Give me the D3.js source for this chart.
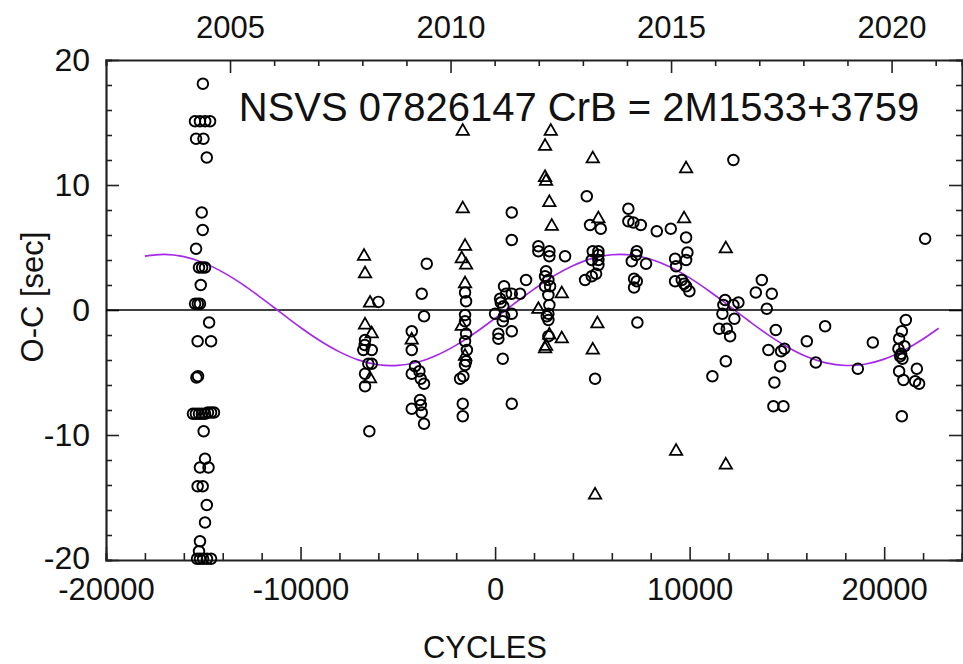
<!DOCTYPE html>
<html><head><meta charset="utf-8">
<script src="https://cdn.jsdelivr.net/npm/d3@7"></script>
<style>
html,body{margin:0;padding:0;background:#fff;}
svg text{font-family:"Liberation Sans",Arial,Helvetica,sans-serif;fill:#111;}
</style></head>
<body><svg id="c" width="963" height="664"></svg>
<script>
// ---------- data (cycle, O-C seconds) ----------
const circleCycles = [
 -15020,-15425,-15170,-14900,-14650,-15370,-14990,-14820,-15080,-15030,-15370,-15220,-15060,-14910,-15130,-15420,-15280,-15170,
 -14700,-15290,-14600,-15350,-15270,-15530,-15380,-15220,-15070,-14910,-14760,-14600,-14450,-14980,-14910,-15170,-14730,-15290,-15030,
 -14820,-14910,-15170,-15220,-15320,-15170,-15010,-14810,-14600,
 -6001,-6685,-6772,-6340,-6515,-6340,-6685,-6685,-6464,-6700,
 -3513,-3770,-3652,-4284,-4284,-4114,-4284,-3893,-3821,-3652,-3857,-3821,-4284,-3770,-3652,
 -1544,-1492,-1544,-1544,-1492,-1544,-1450,-1492,-1544,-1801,-1631,-1662,-1662,
 857,857,1592,461,256,564,857,1284,292,425,-2,461,857,394,168,168,857,394,857,
 2225,2225,2790,2790,3597,2620,2569,2739,2569,2826,2739,2790,2739,2739,2656,2739,
 4713,4882,5432,5021,5309,5309,5309,4970,5309,5191,4970,4625,5139,
 6851,6851,7108,7489,7283,7247,7026,7761,7144,7283,7144,7314,
 8311,9031,9818,9885,9252,9818,9304,9252,9597,9715,9818,9987,
 12250,11823,11735,12250,12506,11684,12301,11514,11910,12080,11859,11170,
 13710,13401,14223,13966,14429,14049,14702,14872,14650,14357,14306,14820,
 16023,16964,16486,18645,19416,
 22105,21113,20907,20768,21041,20732,20871,20938,20820,20768,21678,20989,21591,21796,20907
];
const circleOC = [
 18.1,15.1,15.1,15.1,15.1,13.7,13.7,12.2,7.8,6.4,4.9,3.4,3.4,3.4,2.0,0.5,0.5,0.5,
 -1.0,-2.5,-2.5,-5.4,-5.3,-8.3,-8.3,-8.3,-8.3,-8.3,-8.2,-8.2,-8.2,-9.7,-11.9,-12.6,-12.6,-14.1,-14.1,
 -15.6,-17.0,-18.5,-19.3,-19.9,-19.9,-19.9,-19.9,-19.9,
 0.65,-2.4,-3.2,-3.2,-4.3,-4.3,-5.1,-6.1,-9.7,-2.8,
 3.7,1.3,-0.5,-1.7,-3.2,-4.5,-5.1,-4.9,-5.5,-5.9,-7.2,-7.6,-7.9,-8.2,-9.1,
 1.4,0.7,-0.4,-0.9,-1.9,-2.5,-3.2,-4.1,-4.4,-5.5,-5.3,-7.5,-8.5,
 7.8,5.6,2.4,1.9,0.9,1.3,1.3,1.3,0.6,0.3,-0.3,-0.5,-0.3,-0.9,-1.9,-2.3,-1.7,-3.9,-7.5,
 5.1,4.7,4.7,4.3,4.3,3.1,2.7,2.4,1.9,1.9,1.2,0.4,-0.3,-0.8,-0.5,-2.1,
 9.1,6.8,6.5,4.7,4.7,4.4,4.0,4.0,3.6,2.9,2.7,2.4,-5.5,
 8.1,7.1,7.0,6.8,4.7,4.4,3.9,3.7,2.5,2.3,1.8,-1.0,
 6.3,6.5,5.8,4.6,4.1,4.0,3.5,2.3,2.4,2.1,1.9,1.5,
 12.0,0.8,0.4,0.4,0.6,-0.3,-0.7,-1.5,-1.5,-2.1,-4.1,-5.3,
 2.4,1.4,1.3,0.1,-1.6,-3.2,-3.3,-3.1,-4.5,-5.8,-7.7,-7.7,
 -2.5,-1.3,-4.2,-4.7,-2.6,
 5.7,-0.8,-1.7,-2.3,-2.9,-3.1,-3.5,-3.9,-3.7,-4.9,-4.7,-5.6,-5.7,-5.9,-8.5
];
const triangleCycles = [
 -6736,-6685,-6428,-6685,-6340,-6428,
 -4284,
 -1662,-1662,-1544,-1713,-1492,-1544,-1713,-1544,
 2862,2569,2569,2620,2790,2913,3428,2225,2790,3428,2569,2620,
 5021,5309,5258,5021,5139,
 9818,9715,9304,
 11859,11859
];
const triangleOC = [
 4.3,2.9,0.55,-1.2,-1.9,-5.5,
 -2.4,
 14.3,8.1,5.1,4.1,3.6,2.1,-1.3,-3.7,
 14.3,13.1,10.6,10.3,8.6,6.7,1.3,0.05,-2.0,-2.3,-3.1,-2.9,
 12.1,7.3,-1.1,-3.2,-14.8,
 11.3,7.3,-11.3,
 4.9,-12.4
];
// fitted light-time curve
const fitCycles = [-18000,-17000,-16000,-15000,-14000,-13000,-12000,-11000,-10000,-9000,-8000,-7000,-6000,-5000,-4000,-3000,-2000,-1000,0,1000,2000,3000,4000,5000,6000,7000,8000,9000,10000,11000,12000,13000,14000,15000,16000,17000,18000,19000,20000,21000,22000,22800];
const fitOC = [4.31,4.45,4.27,3.79,3.03,2.07,0.95,-0.23,-1.40,-2.46,-3.35,-4.01,-4.38,-4.43,-4.18,-3.62,-2.81,-1.80,-0.66,0.53,1.67,2.71,3.54,4.13,4.42,4.40,4.06,3.44,2.57,1.52,0.36,-0.82,-1.95,-2.94,-3.72,-4.23,-4.44,-4.34,-3.93,-3.24,-2.32,-1.46];

const xTickLabels = [-20000,-10000,0,10000,20000];
const yTickLabels = [-20,-10,0,10,20];
const yearLabels = [2005,2010,2015,2020];
const yearTicks = [2005,2006,2007,2008,2009,2010,2011,2012,2013,2014,2015,2016,2017,2018,2019,2020,2021];
const year0 = 2005, cycleAtYear0 = -13625, cyclesPerYear = 2267;
const titleText = "NSVS 07826147 CrB = 2M1533+3759";

// ---------- layout ----------
const L = 106, R = 962, T = 60, B = 560;
const svg = d3.select("#c");
const x = d3.scaleLinear().domain([-20000, 24000]).range([L, R]);
const y = d3.scaleLinear().domain([-20, 20]).range([B, T]);
const xYear = d3.scaleLinear()
  .domain([year0 + (-20000 - cycleAtYear0) / cyclesPerYear, year0 + (24000 - cycleAtYear0) / cyclesPerYear])
  .range([L, R]);

const axisColor = "#222";
const fs = 31;
const fmt = d => String(d);

// bottom axis
const gB = svg.append("g").attr("transform", `translate(0,${B})`);
gB.call(d3.axisBottom(x).tickValues(d3.range(-20000, 24001, 2000)).tickSize(-7).tickFormat(""));
gB.call(g => g.selectAll(".tick").filter(d => d % 10000 === 0).select("line").attr("y2", -13));
const gBl = svg.append("g").attr("transform", `translate(0,${B})`);
gBl.call(d3.axisBottom(x).tickValues(xTickLabels).tickSize(0).tickPadding(40).tickFormat(fmt));
gBl.select(".domain").remove();
gBl.selectAll("text").attr("font-size", fs).attr("dy", 0).attr("font-family", null);

// top axis (years)
const gT = svg.append("g").attr("transform", `translate(0,${T})`);
gT.call(d3.axisTop(xYear).tickValues(yearTicks).tickSize(-6).tickFormat(""));
gT.call(g => g.selectAll(".tick").filter(d => d % 5 === 0).select("line").attr("y2", 13));
const gTl = svg.append("g").attr("transform", `translate(0,${T})`);
gTl.call(d3.axisTop(xYear).tickValues(yearLabels).tickSize(0).tickPadding(22).tickFormat(fmt));
gTl.select(".domain").remove();
gTl.selectAll("text").attr("font-size", fs).attr("font-family", null);

// left axis
const gL = svg.append("g").attr("transform", `translate(${L},0)`);
gL.call(d3.axisLeft(y).tickValues(d3.range(-20, 21, 2)).tickSize(-6).tickFormat(""));
gL.call(g => g.selectAll(".tick").filter(d => d % 10 === 0).select("line").attr("x2", 13));
const gLl = svg.append("g").attr("transform", `translate(${L},0)`);
gLl.call(d3.axisLeft(y).tickValues(yTickLabels).tickSize(0).tickPadding(16).tickFormat(fmt));
gLl.select(".domain").remove();
gLl.selectAll("text").attr("font-size", fs + 1).attr("font-family", null)
  .attr("dy", d => d === -20 ? "0.28em" : "0.32em");

// right axis
const gR = svg.append("g").attr("transform", `translate(${R},0)`);
gR.call(d3.axisRight(y).tickValues(d3.range(-20, 21, 2)).tickSize(-6).tickFormat(""));
gR.call(g => g.selectAll(".tick").filter(d => d % 10 === 0).select("line").attr("x2", -13));

svg.selectAll(".domain").attr("stroke", axisColor).attr("stroke-width", 2.2);
svg.selectAll(".tick line").attr("stroke", axisColor).attr("stroke-width", 1.6);

// zero line
svg.append("line").attr("x1", L).attr("x2", R).attr("y1", y(0)).attr("y2", y(0))
  .attr("stroke", "#000").attr("stroke-width", 1.6);

// fit curve
const fit = fitCycles.map((c, i) => [c, fitOC[i]]);
svg.append("path").datum(fit)
  .attr("d", d3.line().x(d => x(d[0])).y(d => y(d[1])).curve(d3.curveCatmullRom))
  .attr("fill", "none").attr("stroke", "#a428e8").attr("stroke-width", 1.6);

// circles
const circ = circleCycles.map((c, i) => [c, circleOC[i]]);
svg.append("g").selectAll("circle").data(circ).join("circle")
  .attr("cx", d => x(d[0])).attr("cy", d => y(d[1])).attr("r", 5.3)
  .attr("fill", "none").attr("stroke", "#000").attr("stroke-width", 1.9);

// triangles
const tri = triangleCycles.map((c, i) => [c, triangleOC[i]]);
const triSym = d3.symbol().type(d3.symbolTriangle).size(66);
svg.append("g").selectAll("path").data(tri).join("path")
  .attr("transform", d => `translate(${x(d[0])},${y(d[1])})`)
  .attr("d", triSym)
  .attr("fill", "none").attr("stroke", "#000").attr("stroke-width", 1.8).attr("stroke-linejoin", "miter");

// title and axis titles
svg.append("text").attr("x", 579).attr("y", 121).attr("text-anchor", "middle")
  .attr("font-size", 40).text(titleText);
svg.append("text").attr("x", 485).attr("y", 658).attr("text-anchor", "middle")
  .attr("font-size", 31).text("CYCLES");
svg.append("text").attr("transform", "translate(43,297) rotate(-90)").attr("text-anchor", "middle")
  .attr("font-size", 31).text("O-C [sec]");
</script></body></html>
